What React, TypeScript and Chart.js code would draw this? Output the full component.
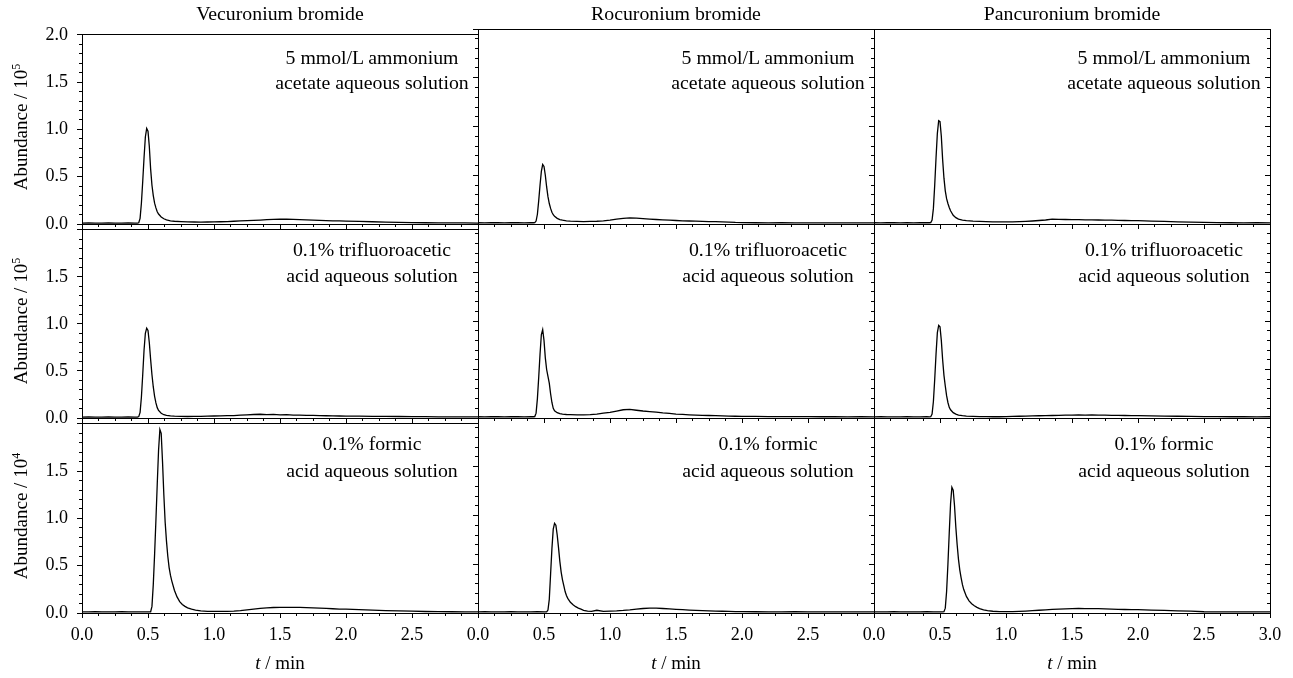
import React, { useEffect, useRef } from 'react';
import { Chart, registerables } from 'chart.js';

Chart.register(...registerables);

// ---------------- DATA ----------------
const COLUMN_TITLES = ['Vecuronium bromide', 'Rocuronium bromide', 'Pancuronium bromide'];
const ROW_NOTES = [
  ['5 mmol/L ammonium', 'acetate aqueous solution'],
  ['0.1% trifluoroacetic', 'acid aqueous solution'],
  ['0.1% formic', 'acid aqueous solution'],
];
const ROW_EXPONENTS = ['5', '5', '4'];
const X_AXIS_TITLE_VAR = 't';
const X_AXIS_TITLE_UNIT = ' / min';
const Y_AXIS_TITLE = 'Abundance / 10';

const X_TICKS = [0, 0.5, 1, 1.5, 2, 2.5, 3];
const X_TICK_LABELS = ['0.0', '0.5', '1.0', '1.5', '2.0', '2.5', '3.0'];
const X_MINOR_TICKS = [0.125, 0.25, 0.375, 0.625, 0.75, 0.875, 1.125, 1.25, 1.375, 1.625, 1.75, 1.875, 2.125, 2.25, 2.375, 2.625, 2.75, 2.875];
const Y_TICKS = [0, 0.5, 1, 1.5, 2];
const Y_TICK_LABELS = ['0.0', '0.5', '1.0', '1.5', '2.0'];
const Y_MINOR_TICKS = [0.1, 0.2, 0.3, 0.4, 0.6, 0.7, 0.8, 0.9, 1.1, 1.2, 1.3, 1.4, 1.6, 1.7, 1.8, 1.9];

// retention time grid for rows 1-2 (min)
const TIME_A = [0.00, 0.05, 0.10, 0.15, 0.20, 0.25, 0.30, 0.35, 0.40, 0.42, 0.43,
  0.44, 0.45, 0.46, 0.47, 0.48, 0.49, 0.50, 0.51, 0.52, 0.53, 0.54, 0.55, 0.56, 0.57, 0.58,
  0.60, 0.62, 0.64, 0.67, 0.70,
  0.75, 0.80, 0.85, 0.90, 0.95, 1.00, 1.05, 1.10, 1.15, 1.20, 1.25, 1.30, 1.35, 1.40, 1.45, 1.50,
  1.55, 1.60, 1.65, 1.70, 1.75, 1.80, 1.85, 1.90, 1.95, 2.00,
  2.10, 2.20, 2.30, 2.40, 2.50, 2.60, 2.70, 2.80, 2.90, 3.00];

// retention time grid for row 3 (min)
const TIME_B = [0.00, 0.05, 0.10, 0.15, 0.20, 0.25, 0.30, 0.35, 0.40, 0.45, 0.50,
  0.52, 0.53, 0.54, 0.55, 0.56, 0.57, 0.58, 0.59, 0.60, 0.61, 0.62, 0.63, 0.64, 0.65, 0.66, 0.67, 0.68,
  0.70, 0.72, 0.74, 0.76, 0.78, 0.80,
  0.83, 0.86, 0.90, 0.95, 1.00,
  1.05, 1.10, 1.15, 1.20, 1.25, 1.30, 1.35, 1.40, 1.45, 1.50, 1.55, 1.60, 1.65, 1.70, 1.75, 1.80, 1.85, 1.90, 1.95, 2.00,
  2.10, 2.20, 2.30, 2.40, 2.50, 2.60, 2.70, 2.80, 2.90, 3.00];

// Row 1: 5 mmol/L ammonium acetate (x10^5)
const VEC_AMMONIUM = [0.010, 0.011, 0.009, 0.010, 0.012, 0.009, 0.010, 0.011, 0.010, 0.010, 0.013,
  0.06, 0.22, 0.45, 0.70, 0.92, 1.01, 0.98, 0.82, 0.58, 0.41, 0.30, 0.22, 0.17, 0.13, 0.105,
  0.075, 0.055, 0.043, 0.034, 0.029,
  0.025, 0.022, 0.021, 0.020, 0.021, 0.022, 0.024, 0.026, 0.029, 0.032, 0.035, 0.039, 0.042, 0.046, 0.048, 0.051,
  0.050, 0.049, 0.046, 0.044, 0.041, 0.038, 0.036, 0.034, 0.032, 0.031,
  0.028, 0.024, 0.020, 0.017, 0.015, 0.013, 0.012, 0.011, 0.012, 0.010];
const ROC_AMMONIUM = [0.013, 0.012, 0.014, 0.013, 0.012, 0.013, 0.014, 0.012, 0.013, 0.013, 0.014,
  0.03, 0.10, 0.24, 0.40, 0.54, 0.61, 0.59, 0.50, 0.38, 0.28, 0.21, 0.16, 0.12, 0.095, 0.078,
  0.058, 0.046, 0.039, 0.033, 0.030,
  0.027, 0.025, 0.026, 0.028, 0.033, 0.040, 0.050, 0.058, 0.062, 0.060, 0.055, 0.050, 0.046, 0.042, 0.039, 0.036,
  0.033, 0.031, 0.029, 0.027, 0.025, 0.024, 0.022, 0.020, 0.016, 0.014,
  0.013, 0.012, 0.013, 0.012, 0.011, 0.012, 0.012, 0.011, 0.012, 0.011];
const PAN_AMMONIUM = [0.013, 0.012, 0.013, 0.014, 0.012, 0.013, 0.012, 0.013, 0.014, 0.013, 0.014,
  0.04, 0.16, 0.40, 0.68, 0.93, 1.06, 1.05, 0.90, 0.66, 0.47, 0.34, 0.26, 0.21, 0.17, 0.135,
  0.090, 0.065, 0.050, 0.040, 0.034,
  0.029, 0.026, 0.024, 0.022, 0.021, 0.021, 0.022, 0.024, 0.027, 0.031, 0.036, 0.041, 0.050, 0.047, 0.046, 0.045,
  0.044, 0.043, 0.042, 0.041, 0.040, 0.039, 0.038, 0.036, 0.035, 0.034,
  0.030, 0.026, 0.022, 0.019, 0.016, 0.014, 0.013, 0.012, 0.013, 0.012];

// Row 2: 0.1% trifluoroacetic acid (x10^5)
const VEC_TFA = [0.010, 0.011, 0.010, 0.009, 0.011, 0.010, 0.010, 0.011, 0.010, 0.010, 0.015,
  0.06, 0.22, 0.46, 0.72, 0.90, 0.955, 0.93, 0.80, 0.62, 0.46, 0.33, 0.23, 0.16, 0.11, 0.08,
  0.050, 0.035, 0.028, 0.022, 0.019,
  0.017, 0.016, 0.018, 0.017, 0.019, 0.021, 0.022, 0.026, 0.025, 0.030, 0.034, 0.037, 0.040, 0.036, 0.038, 0.033,
  0.035, 0.030, 0.031, 0.028, 0.027, 0.025, 0.024, 0.022, 0.021, 0.020,
  0.019, 0.018, 0.017, 0.016, 0.015, 0.014, 0.013, 0.013, 0.012, 0.012];
const ROC_TFA = [0.013, 0.012, 0.013, 0.014, 0.012, 0.013, 0.013, 0.012, 0.013, 0.013, 0.015,
  0.05, 0.20, 0.42, 0.66, 0.86, 0.91, 0.80, 0.62, 0.50, 0.43, 0.36, 0.25, 0.16, 0.10, 0.075,
  0.055, 0.045, 0.040, 0.036, 0.035,
  0.033, 0.032, 0.034, 0.040, 0.050, 0.058, 0.072, 0.085, 0.088, 0.080, 0.072, 0.066, 0.060, 0.052, 0.047, 0.040,
  0.037, 0.033, 0.030, 0.028, 0.026, 0.024, 0.022, 0.020, 0.018, 0.017,
  0.016, 0.015, 0.015, 0.014, 0.014, 0.013, 0.013, 0.012, 0.013, 0.012];
const PAN_TFA = [0.012, 0.013, 0.012, 0.011, 0.012, 0.013, 0.012, 0.012, 0.013, 0.012, 0.013,
  0.04, 0.17, 0.40, 0.66, 0.88, 0.955, 0.94, 0.80, 0.60, 0.44, 0.33, 0.23, 0.16, 0.11, 0.085,
  0.055, 0.040, 0.030, 0.024, 0.020,
  0.017, 0.015, 0.014, 0.013, 0.013, 0.014, 0.016, 0.018, 0.020, 0.022, 0.023, 0.025, 0.026, 0.028, 0.030, 0.030,
  0.032, 0.030, 0.033, 0.030, 0.030, 0.028, 0.027, 0.026, 0.025, 0.024,
  0.022, 0.020, 0.018, 0.016, 0.015, 0.014, 0.013, 0.013, 0.012, 0.013];

// Row 3: 0.1% formic acid (x10^4)
const VEC_FORMIC = [0.012, 0.011, 0.013, 0.012, 0.011, 0.012, 0.013, 0.012, 0.011, 0.012, 0.012,
  0.013, 0.07, 0.30, 0.62, 0.98, 1.36, 1.72, 1.94, 1.90, 1.60, 1.25, 0.96, 0.76, 0.60, 0.48, 0.40, 0.34,
  0.24, 0.17, 0.12, 0.09, 0.07, 0.055,
  0.040, 0.030, 0.022, 0.018, 0.017,
  0.017, 0.018, 0.020, 0.025, 0.032, 0.040, 0.048, 0.054, 0.058, 0.060, 0.060, 0.060, 0.059, 0.057, 0.054, 0.051, 0.048, 0.045, 0.042, 0.040,
  0.035, 0.030, 0.026, 0.022, 0.019, 0.016, 0.014, 0.013, 0.012, 0.011];
const ROC_FORMIC = [0.012, 0.013, 0.011, 0.012, 0.012, 0.013, 0.012, 0.011, 0.012, 0.013, 0.012,
  0.012, 0.030, 0.14, 0.40, 0.66, 0.86, 0.92, 0.90, 0.80, 0.67, 0.53, 0.42, 0.34, 0.28, 0.22, 0.18, 0.15,
  0.11, 0.085, 0.065, 0.050, 0.040, 0.028,
  0.020, 0.017, 0.028, 0.017, 0.020,
  0.022, 0.026, 0.032, 0.040, 0.046, 0.050, 0.049, 0.046, 0.042, 0.038, 0.034, 0.030, 0.027, 0.025, 0.022, 0.020, 0.018, 0.016, 0.015, 0.014,
  0.013, 0.012, 0.012, 0.013, 0.012, 0.011, 0.012, 0.012, 0.011, 0.012];
const PAN_FORMIC = [0.012, 0.011, 0.012, 0.013, 0.012, 0.011, 0.012, 0.012, 0.013, 0.012, 0.012,
  0.012, 0.013, 0.05, 0.22, 0.50, 0.82, 1.12, 1.29, 1.26, 1.10, 0.88, 0.70, 0.55, 0.44, 0.36, 0.29, 0.24,
  0.17, 0.125, 0.095, 0.075, 0.058, 0.045,
  0.032, 0.024, 0.018, 0.015, 0.014,
  0.015, 0.017, 0.020, 0.024, 0.028, 0.033, 0.037, 0.040, 0.043, 0.045, 0.046, 0.045, 0.045, 0.044, 0.042, 0.040, 0.038, 0.036, 0.035, 0.034,
  0.030, 0.026, 0.022, 0.019, 0.013, 0.012, 0.012, 0.011, 0.012, 0.011];

const ROW_TIMES = [TIME_A, TIME_A, TIME_B];
const SERIES = [
  [VEC_AMMONIUM, ROC_AMMONIUM, PAN_AMMONIUM],
  [VEC_TFA, ROC_TFA, PAN_TFA],
  [VEC_FORMIC, ROC_FORMIC, PAN_FORMIC],
];

// ---------------- LAYOUT ----------------
const FONT = '"Liberation Serif", "Times New Roman", Times, serif';
const PLOT_LEFT = [82, 478, 874];
const PLOT_W = 396;
const PLOT_TOP = [29, 224, 418];
const PLOT_H = [195, 194, 195];
const AXIS_W = 60;
const AXIS_H = 45;
const PAD_T = 14;
const PAD_R = 24;
const NOTE_X = 290;
const NOTE_Y = [[57, 82], [249, 275], [443, 470]];

function makeConfig(row: number, col: number): any {
  const isBottom = row === 2;
  const isLeft = col === 0;
  const isRight = col === 2;
  const times = ROW_TIMES[row];
  const values = SERIES[row][col];
  const points = times.map((t, i) => ({ x: t, y: values[i] }));
  const tickFont = { family: FONT, size: 18 };
  const black = '#000';

  const scales: any = {
    x: {
      axis: 'x', type: 'linear', position: 'bottom', min: 0, max: 3, weight: 2,
      afterBuildTicks: (s: any) => { s.ticks = X_TICKS.map((v) => ({ value: v })); },
      afterFit: (s: any) => { s.height = AXIS_H; },
      ticks: {
        display: isBottom, autoSkip: false, maxRotation: 0, padding: 6, color: black, font: tickFont,
        callback: (_v: any, i: number) => (i === X_TICKS.length - 1 && !isRight ? '' : X_TICK_LABELS[i]),
      },
      grid: { drawOnChartArea: false, drawTicks: true, tickLength: 5, color: black, lineWidth: 1 },
      border: { display: true, color: black, width: 1 },
    },
    xMinor: {
      axis: 'x', type: 'linear', position: 'bottom', min: 0, max: 3, weight: 1,
      afterBuildTicks: (s: any) => { s.ticks = X_MINOR_TICKS.map((v) => ({ value: v })); },
      afterFit: (s: any) => { s.height = 0; },
      ticks: { display: false, autoSkip: false },
      grid: { drawOnChartArea: false, drawTicks: true, tickLength: 3, color: black, lineWidth: 1 },
      border: { display: false },
    },
    xTop: {
      axis: 'x', type: 'linear', position: 'top', min: 0, max: 3,
      afterFit: (s: any) => { s.height = 0; },
      ticks: { display: false },
      grid: { drawOnChartArea: false, drawTicks: false },
      border: { display: true, color: black, width: 1 },
    },
    y: {
      axis: 'y', type: 'linear', position: 'left', min: 0, max: 2, weight: 2,
      afterBuildTicks: (s: any) => { s.ticks = Y_TICKS.map((v) => ({ value: v })); },
      afterFit: (s: any) => { s.width = AXIS_W; },
      ticks: {
        display: isLeft, autoSkip: false, padding: 9, color: black, font: tickFont,
        callback: (_v: any, i: number) => (row !== 0 && i === Y_TICKS.length - 1 ? '' : Y_TICK_LABELS[i]),
      },
      grid: { drawOnChartArea: false, drawTicks: true, tickLength: 5, color: black, lineWidth: 1 },
      border: { display: true, color: black, width: 1 },
    },
    yMinor: {
      axis: 'y', type: 'linear', position: 'left', min: 0, max: 2, weight: 1,
      afterBuildTicks: (s: any) => { s.ticks = Y_MINOR_TICKS.map((v) => ({ value: v })); },
      afterFit: (s: any) => { s.width = 0; },
      ticks: { display: false, autoSkip: false },
      grid: { drawOnChartArea: false, drawTicks: true, tickLength: 3, color: black, lineWidth: 1 },
      border: { display: false },
    },
  };

  if (isRight) {
    scales.yRight = {
      axis: 'y', type: 'linear', position: { x: 3 }, min: 0, max: 2,
      afterBuildTicks: (s: any) => { s.ticks = Y_TICKS.map((v) => ({ value: v })); },
      afterFit: (s: any) => { s.width = 0; },
      ticks: { display: false, autoSkip: false },
      grid: { drawOnChartArea: false, drawTicks: true, tickLength: 5, color: black, lineWidth: 1 },
      border: { display: true, color: black, width: 1 },
    };
    scales.yRightMinor = {
      axis: 'y', type: 'linear', position: { x: 3 }, min: 0, max: 2,
      afterBuildTicks: (s: any) => { s.ticks = Y_MINOR_TICKS.map((v) => ({ value: v })); },
      afterFit: (s: any) => { s.width = 0; },
      ticks: { display: false, autoSkip: false },
      grid: { drawOnChartArea: false, drawTicks: true, tickLength: 3, color: black, lineWidth: 1 },
      border: { display: false },
    };
  }

  return {
    type: 'line',
    data: {
      datasets: [{
        data: points,
        xAxisID: 'x',
        yAxisID: 'y',
        borderColor: '#000',
        borderWidth: 1.3,
        pointRadius: 0,
        tension: 0,
        fill: false,
      }],
    },
    options: {
      animation: false,
      responsive: false,
      maintainAspectRatio: false,
      events: [],
      layout: { padding: { left: 0, top: PAD_T, right: PAD_R, bottom: 0 } },
      plugins: { legend: { display: false }, tooltip: { enabled: false }, title: { display: false } },
      scales,
    },
  };
}

function Panel({ row, col }: { row: number; col: number }) {
  const ref = useRef<HTMLCanvasElement>(null);
  const w = AXIS_W + PLOT_W + PAD_R;
  const h = PAD_T + PLOT_H[row] + AXIS_H;
  useEffect(() => {
    const chart = new Chart(ref.current as HTMLCanvasElement, makeConfig(row, col));
    return () => chart.destroy();
  }, [row, col]);
  return (
    <canvas
      ref={ref}
      width={w}
      height={h}
      style={{ position: 'absolute', left: PLOT_LEFT[col] - AXIS_W, top: PLOT_TOP[row] - PAD_T, width: w, height: h }}
    />
  );
}

export default function App() {
  const panels: React.ReactNode[] = [];
  for (let r = 0; r < 3; r++) for (let c = 0; c < 3; c++) panels.push(<Panel key={`p${r}${c}`} row={r} col={c} />);

  const textBase: React.CSSProperties = { position: 'absolute', fontSize: 19.8, lineHeight: '22px', whiteSpace: 'nowrap', textAlign: 'center', color: '#000' };

  return (
    <div style={{ position: 'absolute', left: 0, top: 0, width: 1293, height: 678, background: '#fff', fontFamily: FONT, overflow: 'hidden' }}>
      {panels}
      {COLUMN_TITLES.map((t, c) => (
        <div key={`t${c}`} style={{ ...textBase, left: PLOT_LEFT[c], width: PLOT_W, top: 2 }}>{t}</div>
      ))}
      {ROW_NOTES.map((lines, r) => PLOT_LEFT.map((pl, c) => lines.map((ln, k) => (
        <div key={`n${r}${c}${k}`} style={{ ...textBase, left: pl + NOTE_X - 150, width: 300, top: NOTE_Y[r][k] - 11 }}>{ln}</div>
      ))))}
      {ROW_EXPONENTS.map((e, r) => {
        const cy = PLOT_TOP[r] + PLOT_H[r] / 2;
        return (
          <div key={`y${r}`} style={{ ...textBase, fontSize: 19, left: 21 - 100, width: 200, top: cy - 11, transform: 'rotate(-90deg)' }}>
            {Y_AXIS_TITLE}<sup style={{ fontSize: 12, lineHeight: 0, verticalAlign: '0.55em' }}>{e}</sup>
          </div>
        );
      })}
      {PLOT_LEFT.map((pl, c) => (
        <div key={`x${c}`} style={{ ...textBase, fontSize: 19, left: pl, width: PLOT_W, top: 652 }}>
          <span style={{ fontStyle: 'italic' }}>{X_AXIS_TITLE_VAR}</span>{X_AXIS_TITLE_UNIT}
        </div>
      ))}
    </div>
  );
}
